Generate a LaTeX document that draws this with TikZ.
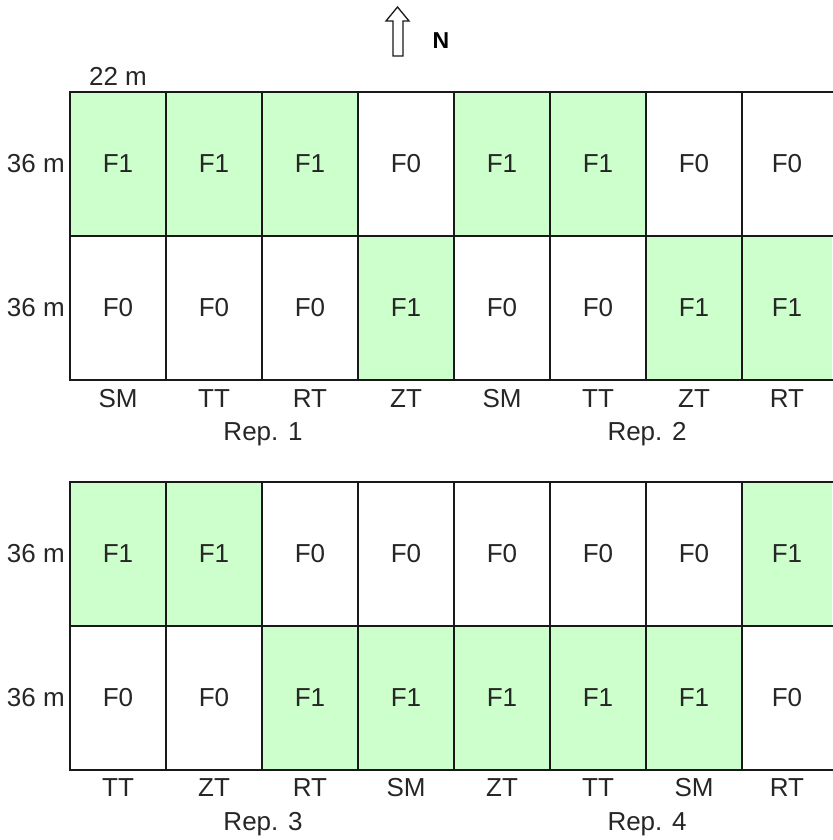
\documentclass[tikz,border=0pt]{standalone}
\usepackage{fontspec}
\setmainfont{Liberation Sans}
\definecolor{fillcA}{RGB}{204,255,204}
\definecolor{fillcB}{RGB}{255,255,255}
\colorlet{fillc1}{fillcA}
\colorlet{fillc0}{fillcB}
\definecolor{ink}{RGB}{38,38,38}
\begin{document}
\begin{tikzpicture}[x=1pt,y=-1pt,
  cell/.style={minimum height=144pt,inner sep=0pt,outer sep=0pt,text=ink,font=\fontsize{26}{30}\selectfont},
  lab/.style={text=ink,font=\fontsize{26}{30}\selectfont,inner sep=0pt,anchor=base},
  dimlab/.style={text=ink,font=\fontsize{26}{30}\selectfont,inner sep=0pt},
  gridline/.style={line width=1.6pt,draw=black!90,line cap=rect}]
\useasboundingbox (0,0) rectangle (832,840);

% cells and treatment labels
\foreach \i/\cx/\w/\a/\b/\c/\d/\lt/\lb in {
  1/118/96/1/0/1/0/SM/TT,
  2/214/96/1/0/1/0/TT/ZT,
  3/310/96/1/0/0/1/RT/RT,
  4/406/96/0/1/0/1/ZT/SM,
  5/502/96/1/0/0/1/SM/ZT,
  6/598/96/1/0/0/1/TT/TT,
  7/694/96/0/1/0/1/ZT/SM,
  8/787/90/0/1/1/0/RT/RT}{
  \node[cell,minimum width=\w pt,fill=fillc\a] (ta-\i) at (\cx,164) {F\a};
  \node[cell,minimum width=\w pt,fill=fillc\b] (tb-\i) at (\cx,308) {F\b};
  \node[cell,minimum width=\w pt,fill=fillc\c] (ba-\i) at (\cx,554) {F\c};
  \node[cell,minimum width=\w pt,fill=fillc\d] (bb-\i) at (\cx,698) {F\d};
  \node[lab] (tl-\i) at (\cx,407) {\lt};
  \node[lab] (bl-\i) at (\cx,796) {\lb};
}

% grid lines, top block
\draw[gridline] (ta-1.north west) -- (ta-8.north east);
\draw[gridline] (ta-1.south west) -- (ta-8.south east);
\draw[gridline] (tb-1.south west) -- (tb-8.south east);
\foreach \i in {1,...,8}{
  \draw[gridline] (ta-\i.north west) -- (tb-\i.south west);
}
% grid lines, bottom block
\draw[gridline] (ba-1.north west) -- (ba-8.north east);
\draw[gridline] (ba-1.south west) -- (ba-8.south east);
\draw[gridline] (bb-1.south west) -- (bb-8.south east);
\foreach \i in {1,...,8}{
  \draw[gridline] (ba-\i.north west) -- (bb-\i.south west);
}

% rep labels
\node[lab] (rep1) at (263,440) {Rep. 1};
\node[lab] (rep2) at (647,440) {Rep. 2};
\node[lab] (rep3) at (263,830) {Rep. 3};
\node[lab] (rep4) at (647,830) {Rep. 4};

% dimension labels
\node[dimlab,anchor=east] (len1) at (65,164) {36 m};
\node[dimlab,anchor=east] (len2) at (65,308) {36 m};
\node[dimlab,anchor=east] (len3) at (65,554) {36 m};
\node[dimlab,anchor=east] (len4) at (65,698) {36 m};
\node[dimlab] (wid) at (118,76) {22 m};

% north arrow
\draw[line width=1.3pt,draw=black!90,line join=miter] (393,56) -- (393,21) -- (386,21) -- (397.5,7) -- (409,21) -- (403,21) -- (403,56) -- cycle;
\node[text=black,font=\bfseries\fontsize{23}{27}\selectfont,inner sep=0pt] (north) at (441,41) {N};
\end{tikzpicture}
\end{document}
